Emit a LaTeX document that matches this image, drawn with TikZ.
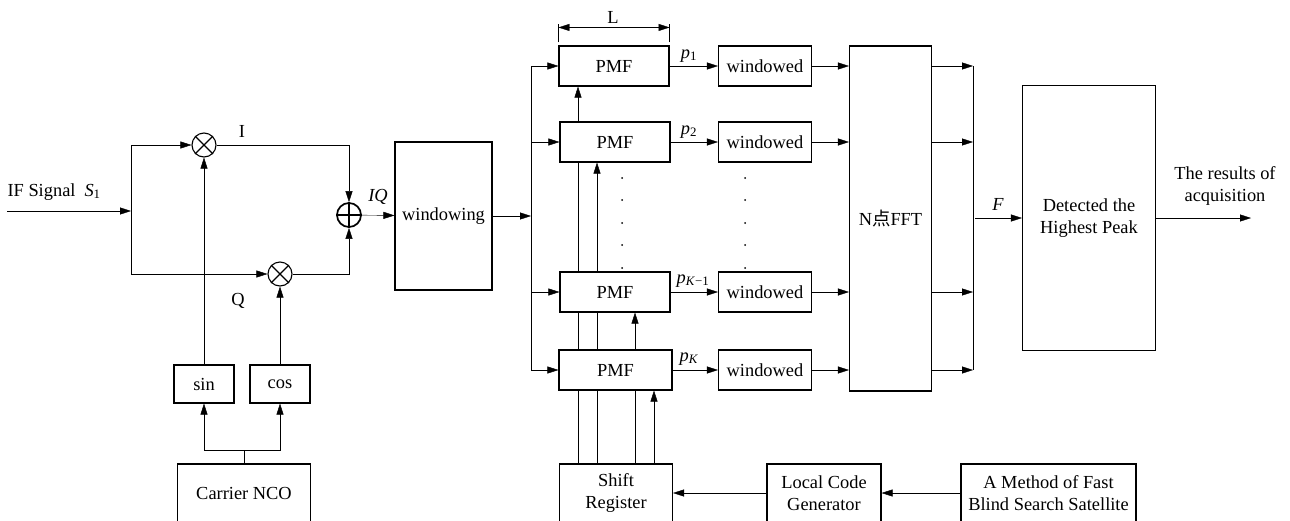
\documentclass[tikz,border=0pt]{standalone}
\usepackage{fontspec}
\setmainfont{Liberation Serif}
\newfontfamily\cjk{Noto Sans CJK SC}
\usetikzlibrary{arrows.meta,calc}
\pgfdeclarelayer{background}
\pgfsetlayers{background,main}
\tikzset{
  box/.style={draw, fill=white, inner sep=0pt, align=center},
  mult/.style={circle, draw, fill=white, minimum size=24pt, inner sep=0pt},
  arr/.style={-{Triangle[length=11pt,width=7pt]}},
  dimarr/.style={{Triangle[length=11pt,width=7pt]}-{Triangle[length=11pt,width=7pt]}},
  lbl/.style={inner sep=0pt},
}
\begin{document}
\begin{tikzpicture}[x=1pt,y=-1pt,line width=1.1pt,font=\fontsize{18.4}{22}\selectfont]
\useasboundingbox (0,0) rectangle (1290,520);
\clip (0,0) rectangle (1290,520);

% ---- carrier part
\node[box, minimum width=60pt, minimum height=38pt] (sin) at (204,384) {sin};
\node[box, minimum width=60pt, minimum height=38pt] (cos) at (280,384) {cos};
\node[box, minimum width=133pt, minimum height=58pt] (nco) at (244,493) {Carrier NCO};
\node[mult] (m1) at (204,145) {};
\draw (m1.north east) -- (m1.south west) (m1.north west) -- (m1.south east);
\node[mult] (m2) at (280,274) {};
\draw (m2.north east) -- (m2.south west) (m2.north west) -- (m2.south east);
\node[mult, line width=1.7pt] (add) at (349,215) {};
\draw[line width=1.7pt] (add.north) -- (add.south) (add.west) -- (add.east);
\node[box, minimum width=97pt, minimum height=148pt] (win) at (443.5,216) {windowing};

\coordinate (ifin) at (7,211);
\coordinate (b1top) at (131,145);
\coordinate (b1mid) at (131,211);
\coordinate (b1bot) at (131,274);
\coordinate (ncoj) at (244,450);

\node[lbl, anchor=west] (iftxt) at (7,192) {IF Signal\hspace{9pt}\textit{S}\textsubscript{1}};
\node[lbl] (ilbl) at (242,131) {I};
\node[lbl] (qlbl) at (238,301) {Q};
\node[lbl] (iqlbl) at (378,197) {\textit{IQ}};

% ---- PMF bank
\node[box, minimum width=110pt, minimum height=40pt] (pmf1) at (614,66) {PMF};
\node[box, minimum width=110pt, minimum height=40pt] (pmf2) at (615,142) {PMF};
\node[box, minimum width=110pt, minimum height=40pt] (pmfk1) at (615,292) {PMF};
\node[box, minimum width=113pt, minimum height=40pt] (pmfk) at (615.5,370) {PMF};

\node[box, minimum width=93pt, minimum height=40pt] (w1) at (765,66) {windowed};
\node[box, minimum width=93pt, minimum height=40pt] (w2) at (765,142) {windowed};
\node[box, minimum width=93pt, minimum height=40pt] (wk1) at (765,292) {windowed};
\node[box, minimum width=93pt, minimum height=40pt] (wk) at (765,370) {windowed};

\node[box, minimum width=82pt, minimum height=345pt] (fft) at (890.5,218.5) {N{\cjk 点}FFT};
\node[box, minimum width=133pt, minimum height=265pt] (det) at (1089,218) {Detected the\\Highest Peak};

\node[box, minimum width=113pt, minimum height=58pt] (sr) at (616,493) {Shift\\Register};
\node[box, minimum width=114pt, minimum height=58pt] (lcg) at (824,493) {Local Code\\Generator};
\node[box, minimum width=175pt, minimum height=58pt] (meth) at (1048.5,493) {A Method of Fast\\Blind Search Satellite};

\coordinate (bus2) at (531,216);
\coordinate (bt) at (531,66);
\coordinate (bb) at (531,370);
\coordinate (ot) at (973,66);
\coordinate (ob) at (973,370);
\coordinate (oc) at (975,218);
\coordinate (res) at (1251,218);

\node[lbl] (llbl) at (613,17) {L};
\node[lbl] (p1) at (689,56) {\textit{p}\textsubscript{1}};
\node[lbl] (p2) at (689,132) {\textit{p}\textsubscript{2}};
\node[lbl] (pk1) at (693,281) {\textit{p}\textsubscript{\textit{K}−1}};
\node[lbl] (pk) at (689,359) {\textit{p}\textsubscript{\textit{K}}};
\node[lbl] (flbl) at (998,204) {\textit{F}};
\node[lbl, align=center] (restxt) at (1225,186) {The results of\\acquisition};

% dots
\foreach \yy in {178,200,223,245,268} {
  \fill (622,\yy) circle (1pt);
  \fill (745,\yy) circle (1pt);
}

\begin{pgfonlayer}{background}
\draw[arr] (ifin) -- (b1mid);
\draw (b1top) -- (b1bot);
\draw[arr] (b1top) -- (m1);
\draw[arr] (b1bot) -- (m2);
\draw[arr] (m1) -| (add);
\draw[arr] (m2) -| (add);
\draw[arr] (add) -- (win);
\draw[arr] (sin) -- (m1);
\draw[arr] (cos) -- (m2);
\draw (nco) -- (ncoj);
\draw[arr] (ncoj) -| (sin);
\draw[arr] (ncoj) -| (cos);

\draw[arr] (win) -- (bus2);
\draw (bt) -- (bb);
\draw[arr] (bt) -- (pmf1);
\draw[arr] (bt |- pmf2) -- (pmf2);
\draw[arr] (bt |- pmfk1) -- (pmfk1);
\draw[arr] (bb) -- (pmfk);

% L dimension
\draw ([yshift=3pt]pmf1.north west) -- ([yshift=21pt]pmf1.north west);
\draw ([yshift=3pt]pmf1.north east) -- ([yshift=21pt]pmf1.north east);
\draw[dimarr] ([yshift=18pt]pmf1.north west) -- ([yshift=18pt]pmf1.north east);

\draw[arr] (pmf1) -- (w1);
\draw[arr] (pmf2) -- (w2);
\draw[arr] (pmfk1) -- (wk1);
\draw[arr] (pmfk) -- (wk);

\draw[arr] (w1) -- (w1 -| fft.west);
\draw[arr] (w2) -- (w2 -| fft.west);
\draw[arr] (wk1) -- (wk1 -| fft.west);
\draw[arr] (wk) -- (wk -| fft.west);

\draw[arr] (fft.east |- w1) -- (ot);
\draw[arr] (fft.east |- w2) -- (ot |- w2);
\draw[arr] (fft.east |- wk1) -- (ot |- wk1);
\draw[arr] (fft.east |- wk) -- (ob);
\draw (ot) -- (ob);
\draw[arr] (oc) -- (det);
\draw[arr] (det) -- (res);

% shift register feeds
\draw[arr] ([xshift=-38pt]sr.north) -- ([xshift=-38pt]sr.north |- pmf1.south);
\draw[arr] ([xshift=-19pt]sr.north) -- ([xshift=-19pt]sr.north |- pmf2.south);
\draw[arr] ([xshift=19pt]sr.north) -- ([xshift=19pt]sr.north |- pmfk1.south);
\draw[arr] ([xshift=38pt]sr.north) -- ([xshift=38pt]sr.north |- pmfk.south);

\draw[arr] (lcg) -- (sr);
\draw[arr] (meth) -- (lcg);
\end{pgfonlayer}
\end{tikzpicture}
\end{document}
